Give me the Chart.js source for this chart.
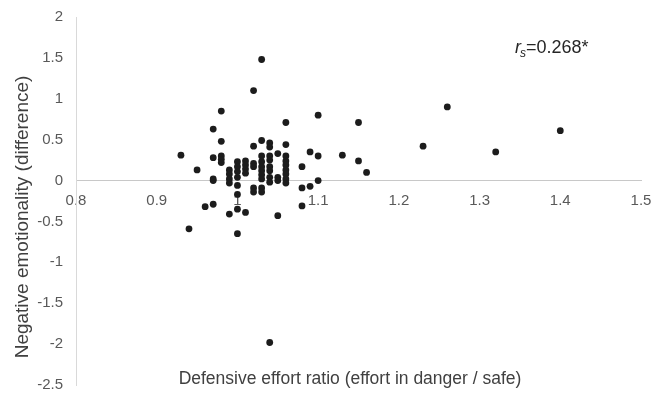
<!DOCTYPE html>
<html>
<head>
<meta charset="utf-8">
<script src="https://cdn.jsdelivr.net/npm/chart.js@4/dist/chart.umd.min.js"></script>
<style>
html,body{margin:0;padding:0;background:#fff;}
#wrap{width:653px;height:395px;}
</style>
</head>
<body>
<div id="wrap"><canvas id="c" width="653" height="395"></canvas></div>
<script>
const effortRatio = [
  1.03, 1.02, 0.98, 1.06, 1.10, 1.15, 0.97, 0.98, 1.03, 1.02,
  1.04, 1.04, 1.06, 1.09, 1.10, 1.13, 1.15, 0.93, 0.95, 0.97,
  0.97, 0.97, 0.98, 0.98, 0.98, 0.99, 0.99, 0.99, 0.99, 1.00,
  1.00, 1.00, 1.00, 1.00, 1.00, 1.01, 1.01, 1.01, 1.01, 1.02,
  1.02, 1.02, 1.02, 1.03, 1.03, 1.03, 1.03, 1.03, 1.03, 1.03,
  1.03, 1.04, 1.04, 1.04, 1.04, 1.04, 1.04, 1.05, 1.05, 1.05,
  1.06, 1.06, 1.06, 1.06, 1.06, 1.06, 1.06, 1.08, 1.08, 1.09,
  1.10, 1.08, 1.05, 0.96, 0.97, 0.99, 1.00, 1.01, 1.00, 0.94,
  1.16, 1.23, 1.26, 1.32, 1.40, 1.04
];
const negEmotionality = [
  1.48, 1.10, 0.85, 0.71, 0.80, 0.71, 0.63, 0.48, 0.49, 0.42,
  0.46, 0.41, 0.44, 0.35, 0.30, 0.31, 0.24, 0.31, 0.13, 0.28,
  0.02, 0.00, 0.30, 0.26, 0.22, 0.13, 0.08, 0.02, -0.03, 0.23,
  0.17, 0.11, 0.04, -0.06, -0.17, 0.24, 0.19, 0.14, 0.09, 0.21,
  0.17, -0.09, -0.14, 0.30, 0.23, 0.17, 0.12, 0.07, 0.02, -0.09,
  -0.14, 0.30, 0.25, 0.17, 0.12, 0.04, -0.02, 0.33, 0.04, 0.00,
  0.30, 0.24, 0.19, 0.13, 0.08, 0.02, -0.03, 0.17, -0.09, -0.07,
  0.00, -0.31, -0.43, -0.32, -0.29, -0.41, -0.35, -0.39, -0.65, -0.59,
  0.10, 0.42, 0.90, 0.35, 0.61, -1.98
];
const xTicks = [0.8, 0.9, 1.0, 1.1, 1.2, 1.3, 1.4, 1.5];
const yTicks = [2, 1.5, 1, 0.5, 0, -0.5, -1, -1.5, -2, -2.5];
const xTitle = 'Defensive effort ratio (effort in danger / safe)';
const yTitle = 'Negative emotionality (difference)';
const corrLabel = '=0.268*';

const points = effortRatio.map((x, i) => ({x: x, y: negEmotionality[i]}));
const FONT = '"Liberation Sans", Arial, sans-serif';

function noPad(scale) {
  scale.paddingTop = 0; scale.paddingBottom = 0;
  scale.paddingLeft = 0; scale.paddingRight = 0;
}

const textPlugin = {
  id: 'texts',
  afterDraw(chart) {
    const ctx = chart.ctx;
    ctx.save();
    ctx.fillStyle = '#404040';
    ctx.font = '17.5px ' + FONT;
    ctx.textAlign = 'center';
    ctx.textBaseline = 'middle';
    ctx.fillText(xTitle, 350, 379);
    ctx.save();
    ctx.translate(23, 217);
    ctx.rotate(-Math.PI / 2);
    ctx.font = '19px ' + FONT;
    ctx.fillText(yTitle, 0, 0);
    ctx.restore();
    ctx.textAlign = 'left';
    ctx.textBaseline = 'alphabetic';
    ctx.fillStyle = '#262626';
    let x = 515;
    const base = 53;
    ctx.font = 'italic 18px ' + FONT;
    ctx.fillText('r', x, base);
    x += ctx.measureText('r').width;
    ctx.font = 'italic 12px ' + FONT;
    ctx.fillText('s', x - 1, base + 4);
    x += ctx.measureText('s').width - 1;
    ctx.font = '18px ' + FONT;
    ctx.fillText(corrLabel, x, base);
    ctx.restore();
  }
};

new Chart(document.getElementById('c'), {
  type: 'scatter',
  data: {
    datasets: [{
      data: points,
      backgroundColor: '#1c1c1c',
      borderWidth: 0,
      pointRadius: 3.4,
      pointHoverRadius: 3.4
    }]
  },
  options: {
    responsive: false,
    animation: false,
    devicePixelRatio: 1,
    layout: {padding: {left: 0, right: 12, top: 17, bottom: 10}},
    plugins: {legend: {display: false}, tooltip: {enabled: false}},
    scales: {
      x: {
        type: 'linear',
        min: 0.8, max: 1.5,
        position: {y: 0},
        afterBuildTicks(scale) { scale.ticks = xTicks.map(v => ({value: v})); },
        afterFit(scale) { noPad(scale); },
        grid: {display: false, drawTicks: false},
        border: {display: true, color: '#c8c8c8', width: 1},
        ticks: {
          color: '#595959',
          font: {family: FONT, size: 15},
          padding: 11,
          maxRotation: 0,
          autoSkip: false,
          callback: v => String(Math.round(v * 10) / 10)
        }
      },
      y: {
        type: 'linear',
        min: -2.5, max: 2,
        afterBuildTicks(scale) { scale.ticks = yTicks.map(v => ({value: v})); },
        afterFit(scale) { scale.width = 76; noPad(scale); },
        grid: {display: false, drawTicks: false},
        border: {display: true, color: '#d9d9d9', width: 1},
        ticks: {
          color: '#595959',
          font: {family: FONT, size: 15},
          padding: 13,
          autoSkip: false,
          callback: v => String(Math.round(v * 10) / 10)
        }
      }
    }
  },
  plugins: [textPlugin]
});
</script>
</body>
</html>
